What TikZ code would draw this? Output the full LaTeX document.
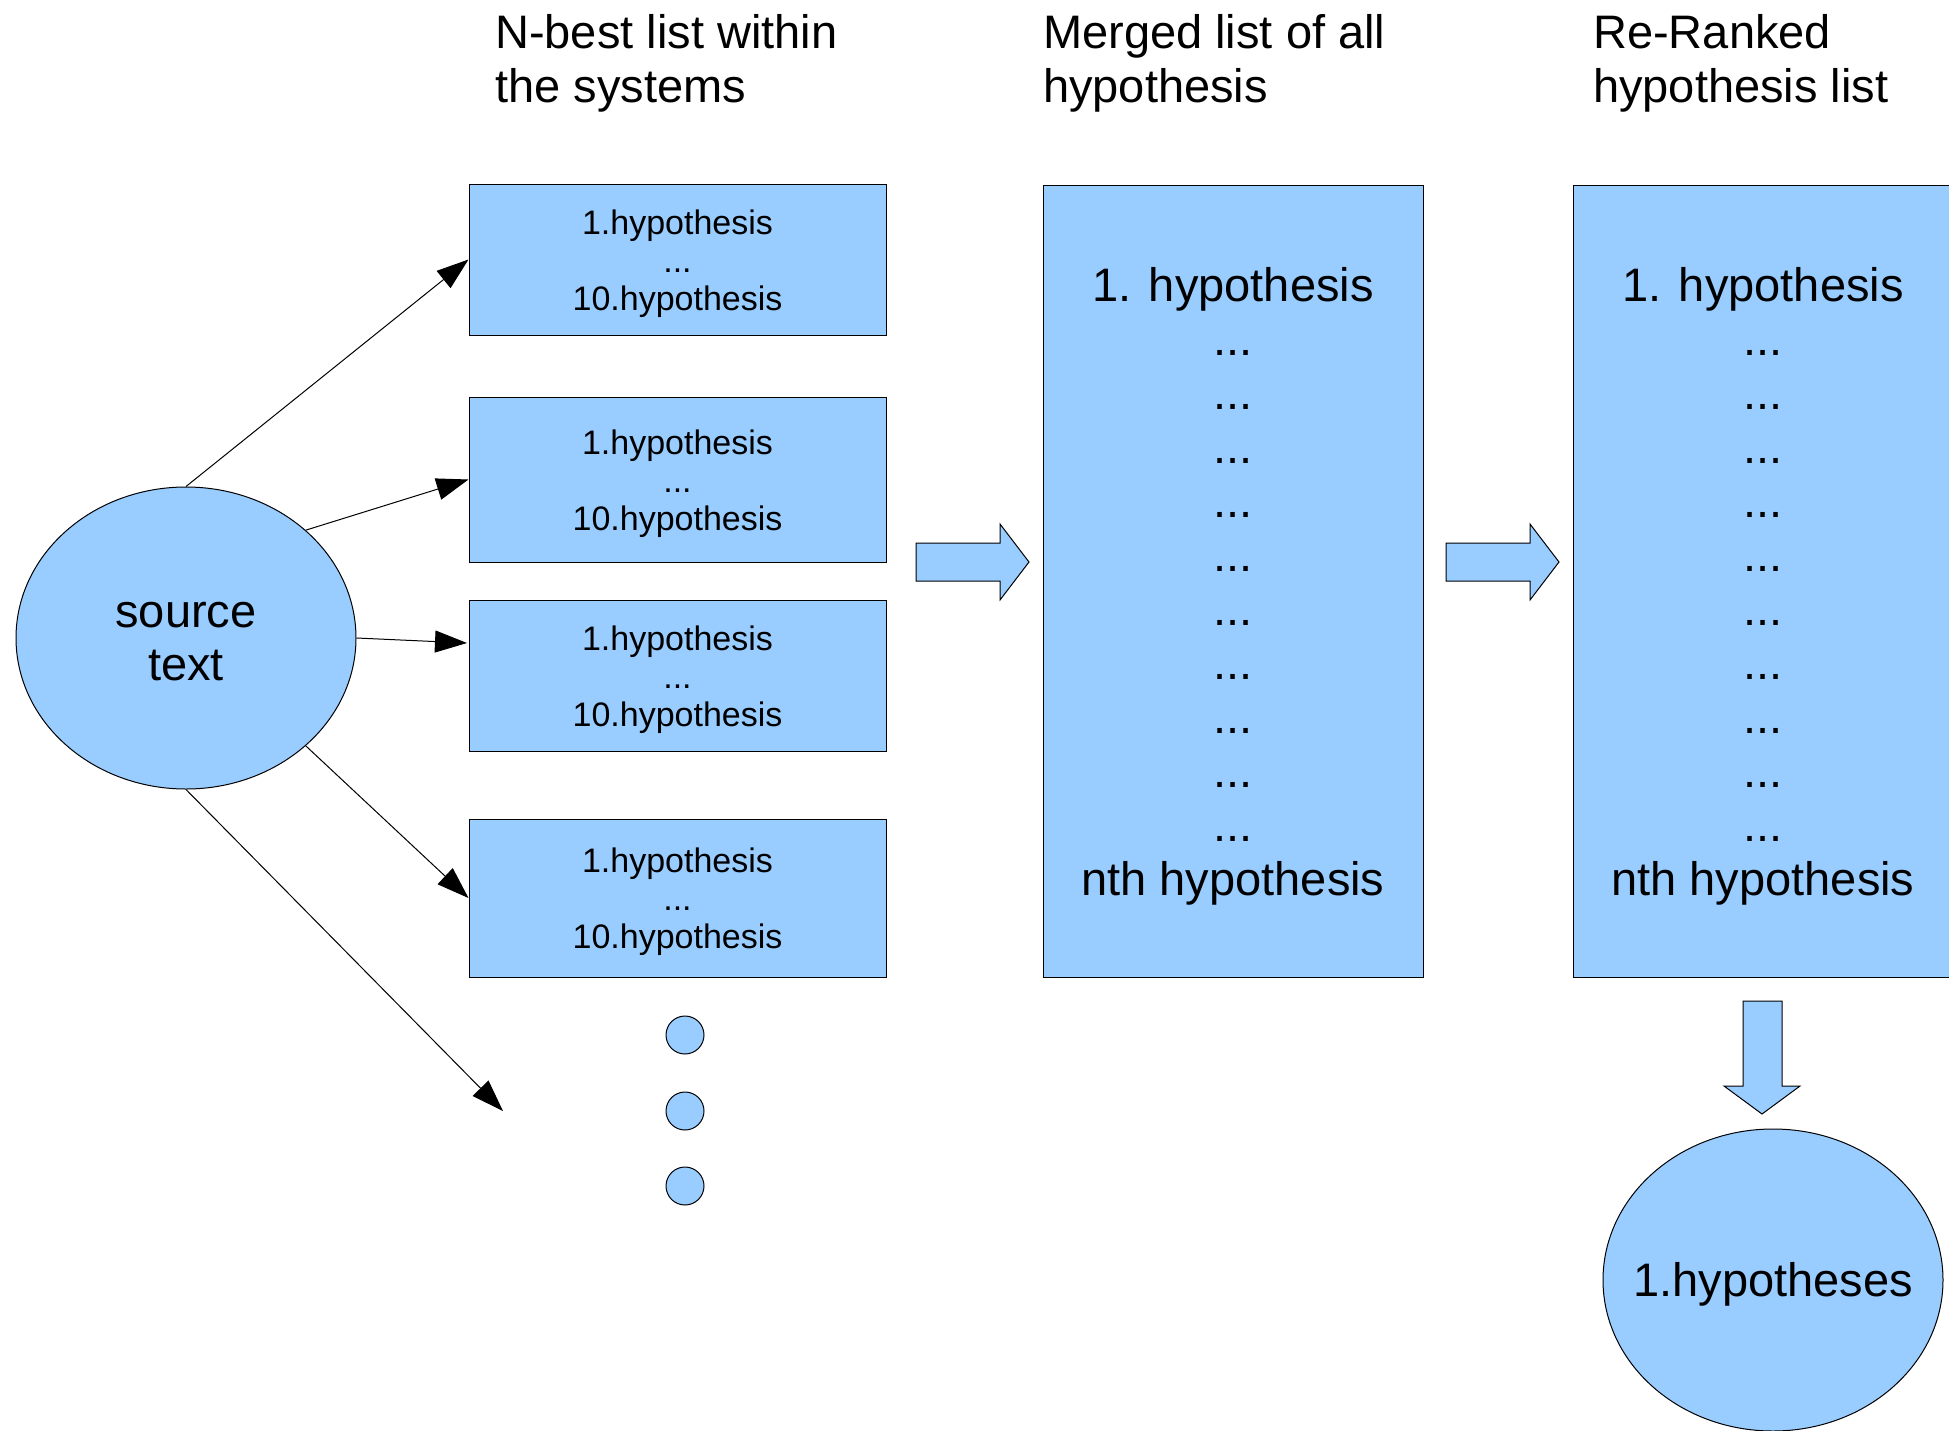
\documentclass[tikz,border=0pt]{standalone}
\usepackage{fontspec}
\setmainfont{Liberation Sans}
\usetikzlibrary{arrows.meta,shapes.geometric}
\definecolor{lblue}{HTML}{99CCFF}
\begin{document}
\begin{tikzpicture}[x=1pt,y=-1pt,
  fillshape/.style={fill=lblue,draw=black,line width=1pt},
  listbox/.style={fillshape,rectangle,minimum width=417pt,inner sep=0pt},
  listtext/.style={inner sep=0pt,align=center,yshift=-4pt,font=\fontsize{34}{38}\selectfont},
  bigbox/.style={fillshape,rectangle,minimum width=380pt,minimum height=792pt,inner sep=0pt},
  bigtext/.style={inner sep=0pt,align=center,yshift=-5pt,font=\fontsize{47}{54}\selectfont},
  blob/.style={fillshape,ellipse,minimum width=340pt,minimum height=302pt,inner sep=0pt},
  blobtext/.style={inner sep=0pt,align=center,yshift=-4pt,font=\fontsize{47}{53}\selectfont},
  dotmark/.style={fillshape,circle,minimum size=38pt,inner sep=0pt},
  heading/.style={anchor=north west,inner sep=0pt,align=left,font=\fontsize{47}{54}\selectfont},
  feed/.style={line width=1pt,-{Triangle[length=32pt,width=22pt]}},
  blockarrow/.style={fillshape,line join=miter}]

\useasboundingbox (0,0) rectangle (1949,1430);
\clip (0,0) rectangle (1949,1430);

% column headings
\node[heading] (h1) at (495,14) {N-best list within\\the systems};
\node[heading] (h2) at (1043,14) {Merged list of all\\hypothesis};
\node[heading] (h3) at (1593,14) {Re-Ranked\\hypothesis list};

% input
\node[blob] (src) at (186,638) {};
\node[blobtext] (srct) at (src.center) {source\\text};

% n-best lists of the single systems
\node[listbox,minimum height=151pt] (b1) at (677.5,259.5) {};
\node[listbox,minimum height=165pt] (b2) at (677.5,479.5) {};
\node[listbox,minimum height=151pt] (b3) at (677.5,675.5) {};
\node[listbox,minimum height=158pt] (b4) at (677.5,898) {};
\foreach \b in {b1,b2,b3,b4}
  \node[listtext] (\b t) at (\b.center) {1.hypothesis\\...\\10.hypothesis};

% further systems
\node[dotmark] (d1) at (685,1035) {};
\node[dotmark] (d2) at (685,1111) {};
\node[dotmark] (d3) at (685,1186) {};

% connectors from the source
\coordinate (t3) at (467,643);
\coordinate (t5) at (503,1111);
\draw[feed] (src.north) -- (b1.west);
\draw[feed] (src.42) -- (b2.west);
\draw[feed] (src.east) -- (t3);
\draw[feed] (src.-42) -- (b4.west);
\draw[feed] (src.south) -- (t5);

% merged and re-ranked lists
\node[bigbox] (merged) at (1233,581) {};
\node[bigbox] (ranked) at (1763,581) {};
\foreach \b in {merged,ranked}
  \node[bigtext] (\b t) at (\b.center) {1. hypothesis\\...\\...\\...\\...\\...\\...\\...\\...\\...\\...\\nth hypothesis};

% block arrows between the stages
\draw[blockarrow] (916,543) -- (1000,543) -- (1000,524) -- (1029,562) -- (1000,600) -- (1000,581) -- (916,581) -- cycle;
\draw[blockarrow] (1446,543) -- (1530,543) -- (1530,524) -- (1559,562) -- (1530,600) -- (1530,581) -- (1446,581) -- cycle;
\draw[blockarrow] (1743,1001) -- (1782,1001) -- (1782,1086) -- (1800,1086) -- (1762,1114) -- (1724,1086) -- (1743,1086) -- cycle;

% result
\node[blob] (best) at (1773,1280) {};
\node[blobtext] (bestt) at (best.center) {1.hypotheses};
\end{tikzpicture}
\end{document}
